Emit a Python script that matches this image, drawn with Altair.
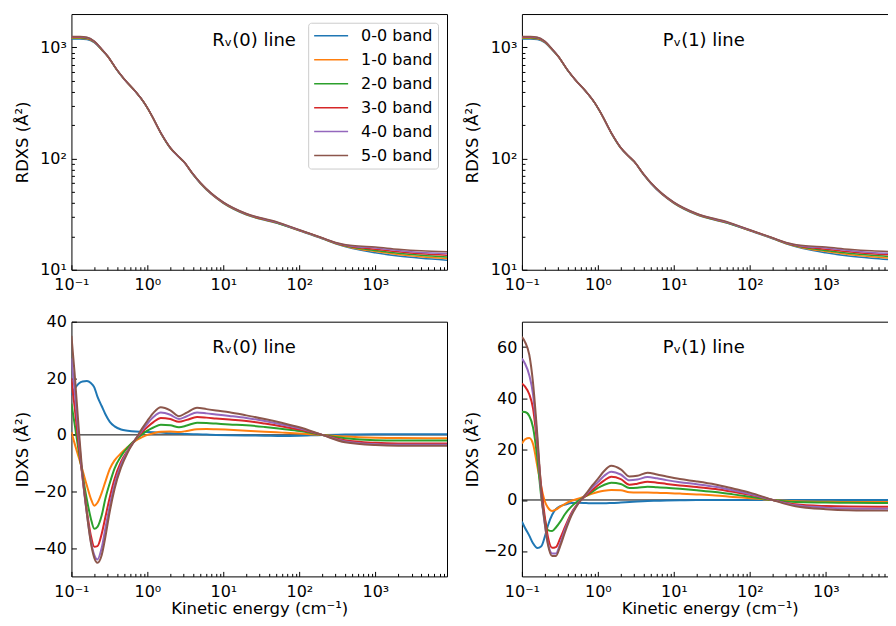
import altair as alt
import pandas as pd

FONT = "DejaVu Sans"

BANDS = ["0-0 band", "1-0 band", "2-0 band", "3-0 band", "4-0 band", "5-0 band"]
COLORS = ["#1f77b4", "#ff7f0e", "#2ca02c", "#d62728", "#9467bd", "#8c564b"]

PANEL_TEXT = ["Rᵥ(0) line", "Pᵥ(1) line"]
Y_TITLES = ["RDXS (Å²)", "IDXS (Å²)"]
X_TITLE = "Kinetic energy (cm⁻¹)"

# ---------- RDXS (top row) ----------
X_RDXS = [0.1, 0.13, 0.16, 0.2, 0.25, 0.3, 0.4, 0.5, 0.7, 0.9, 1.1, 1.5, 2, 2.5, 3, 4, 5, 7, 10,
          20, 50, 100, 200, 300, 500, 1000, 2000, 4000, 8770]

R_RDXS_00 = [1190, 1190, 1180, 1105, 950, 828, 620, 512, 398, 319, 254, 169, 124, 105.5, 93.5, 71.5, 59.5, 47.5, 39.6,
             31.2, 26.3, 22.4, 19.0, 17.1, 15.5, 14.2, 13.3, 12.7, 12.2]
R_RDXS_10 = [1210, 1210, 1200, 1115, 955, 831, 622, 513, 399, 320, 254.5, 169.5, 124.5, 105.8, 93.8, 71.8, 59.8, 47.8, 39.8,
             31.4, 26.4, 22.5, 19.1, 17.2, 15.7, 14.6, 13.7, 13.1, 12.6]
R_RDXS_20 = [1225, 1225, 1213, 1125, 960, 833, 623, 514, 399.5, 320, 255, 170, 125, 106, 94, 72, 60, 48, 40,
             31.5, 26.5, 22.6, 19.2, 17.3, 15.9, 14.9, 14.1, 13.5, 13.0]
R_RDXS_30 = [1237, 1237, 1222, 1130, 965, 835, 625, 515, 400, 320.5, 255.5, 170.5, 125.3, 106.2, 94.2, 72.2, 60.2, 48.2, 40.2,
             31.7, 26.7, 22.7, 19.3, 17.4, 16.1, 15.3, 14.5, 13.9, 13.5]
R_RDXS_40 = [1246, 1246, 1230, 1135, 968, 836, 626, 516, 400.5, 321, 256, 171, 125.6, 106.4, 94.4, 72.4, 60.4, 48.4, 40.4,
             31.9, 26.8, 22.8, 19.3, 17.5, 16.3, 15.7, 14.9, 14.3, 14.0]
R_RDXS_50 = [1254, 1254, 1238, 1140, 970, 838, 627, 517, 401, 321.5, 256.5, 171.5, 126, 106.7, 94.7, 72.7, 60.7, 48.7, 40.6,
             32.1, 27.0, 22.9, 19.4, 17.6, 16.5, 16.0, 15.3, 14.8, 14.5]

P_RDXS_00 = [1190, 1190, 1180, 1105, 950, 828, 620, 512, 398, 319, 254, 169, 124, 105.5, 93.5, 71.5, 59.5, 47.5, 39.6,
             31.2, 26.3, 22.4, 19.0, 17.1, 15.5, 14.2, 13.3, 12.7, 12.2]
P_RDXS_10 = [1210, 1210, 1200, 1115, 955, 831, 622, 513, 399, 320, 254.5, 169.5, 124.5, 105.8, 93.8, 71.8, 59.8, 47.8, 39.8,
             31.4, 26.4, 22.5, 19.1, 17.2, 15.7, 14.6, 13.7, 13.1, 12.6]
P_RDXS_20 = [1225, 1225, 1213, 1125, 960, 833, 623, 514, 399.5, 320, 255, 170, 125, 106, 94, 72, 60, 48, 40,
             31.5, 26.5, 22.6, 19.2, 17.3, 15.9, 14.9, 14.1, 13.5, 13.0]
P_RDXS_30 = [1237, 1237, 1222, 1130, 965, 835, 625, 515, 400, 320.5, 255.5, 170.5, 125.3, 106.2, 94.2, 72.2, 60.2, 48.2, 40.2,
             31.7, 26.7, 22.7, 19.3, 17.4, 16.1, 15.3, 14.5, 13.9, 13.5]
P_RDXS_40 = [1246, 1246, 1230, 1135, 968, 836, 626, 516, 400.5, 321, 256, 171, 125.6, 106.4, 94.4, 72.4, 60.4, 48.4, 40.4,
             31.9, 26.8, 22.8, 19.3, 17.5, 16.3, 15.7, 14.9, 14.3, 14.0]
P_RDXS_50 = [1254, 1254, 1238, 1140, 970, 838, 627, 517, 401, 321.5, 256.5, 171.5, 126, 106.7, 94.7, 72.7, 60.7, 48.7, 40.6,
             32.1, 27.0, 22.9, 19.4, 17.6, 16.5, 16.0, 15.3, 14.8, 14.5]

# ---------- IDXS (bottom row) ----------
X_IDXS = [0.1, 0.11, 0.125, 0.14, 0.16, 0.18, 0.2, 0.22, 0.25, 0.28, 0.32, 0.37, 0.45, 0.55, 0.7, 0.85, 1.0,
          1.2, 1.5, 2.0, 2.6, 3.3, 4.5, 6, 8, 12, 20, 35, 60, 100, 200, 400, 1000, 2000, 8770]

R_IDXS_00 = [14, 16.3, 18.2, 18.9, 19.0, 18.3, 16.8, 13.5, 10.2, 7.3, 4.6, 3.0, 1.9, 1.5, 1.2, 1.1, 1.0,
             0.9, 0.8, 0.6, 0.45, 0.3, 0.2, 0.1, 0.0, -0.1, -0.2, -0.3, -0.4, -0.3, 0.0, 0.1, 0.2, 0.2, 0.2]
R_IDXS_10 = [1.0, -3, -8, -12.5, -18, -22.5, -25, -24, -20.5, -16.5, -12, -9, -6.5, -4.3, -2.0, -0.8, 0.0,
             0.6, 1.1, 1.2, 1.0, 1.4, 2.0, 2.1, 2.0, 1.8, 1.5, 1.1, 0.8, 0.5, 0.0, -0.6, -1.0, -1.1, -1.2]
R_IDXS_20 = [11, 4, -6, -14, -23, -29.5, -33.2, -32.5, -28.5, -22.5, -17, -11.8, -7.5, -4.4, -1.6, 0.2, 1.5,
             2.6, 3.6, 3.4, 2.7, 3.3, 4.3, 4.2, 4.0, 3.7, 3.4, 2.8, 2.1, 1.4, 0.0, -1.2, -1.9, -2.0, -2.0]
R_IDXS_30 = [20, 10, -4, -15, -27, -35.5, -39.5, -39.3, -35, -29, -22, -15.5, -9.5, -5.5, -1.5, 1.0, 2.8,
             4.5, 6.0, 5.6, 4.6, 5.3, 6.3, 6.1, 5.8, 5.4, 4.9, 4.0, 3.0, 1.9, 0.0, -1.9, -2.8, -3.0, -3.0]
R_IDXS_40 = [27, 16, -1, -15, -28, -37.5, -42.5, -44, -40, -33, -25, -17.5, -10.5, -5.8, -1.5, 1.6, 4.0,
             6.3, 7.9, 7.1, 5.6, 6.6, 7.9, 7.6, 7.2, 6.7, 6.0, 4.9, 3.6, 2.3, 0.0, -2.3, -3.3, -3.5, -3.5]
R_IDXS_50 = [35, 22, 2, -14, -28, -38, -43.5, -45.2, -42.5, -36, -27, -19, -11.5, -6.2, -1.5, 2.2, 5.0,
             7.8, 9.8, 8.7, 6.6, 7.9, 9.6, 9.1, 8.6, 8.0, 6.9, 5.6, 4.2, 2.7, 0.0, -2.6, -3.6, -3.8, -3.8]

P_IDXS_00 = [-8.5, -11, -14, -17, -18.9, -18.2, -14.5, -10, -5.8, -3.6, -2.4, -1.8, -1.2, -1.1, -1.2, -1.3, -1.3,
             -1.3, -1.2, -1.0, -0.8, -0.6, -0.4, -0.3, -0.2, -0.1, 0, 0, 0, 0, 0, 0, 0, 0, 0]
P_IDXS_10 = [22.2, 23.8, 24.3, 22, 13, 5, -0.5, -3, -4.3, -3.8, -2.6, -1.5, -0.3, 0.5, 1.6, 2.5, 3.1,
             3.6, 3.9, 3.8, 3.0, 2.9, 2.9, 2.8, 2.7, 2.5, 2.2, 1.8, 1.2, 0.7, 0, -0.5, -0.7, -0.8, -0.8]
P_IDXS_20 = [34.6, 34.5, 33, 28.5, 16, 1, -7.5, -11.8, -12.2, -10.8, -8.5, -5.5, -2.5, -0.4, 1.6, 3.3, 4.7,
             5.9, 6.8, 6.3, 4.7, 4.8, 5.2, 5.0, 4.8, 4.4, 3.8, 3.1, 2.2, 1.3, 0, -0.8, -1.0, -1.1, -1.2]
P_IDXS_30 = [45.7, 44.5, 41.5, 36, 21, 5, -6.5, -14.5, -18.8, -18.5, -15, -10.5, -5, -1.2, 1.8, 4.0, 5.8,
             7.6, 9.1, 8.2, 6.0, 6.4, 7.2, 6.8, 6.3, 5.7, 5.1, 4.3, 3.2, 2.0, 0, -1.7, -2.4, -2.6, -2.7]
P_IDXS_40 = [55.5, 53.5, 49, 41.5, 23, 2, -9.5, -17, -21, -21, -17, -11.5, -5.5, -1.3, 2.2, 5.0, 7.0,
             9.4, 11.1, 10.0, 7.7, 8.0, 9.0, 8.5, 7.8, 7.0, 6.2, 5.2, 3.8, 2.3, 0, -2.1, -3.0, -3.3, -3.5]
P_IDXS_50 = [64, 62, 57, 46, 25, 3, -9, -17.5, -22, -22, -18, -12.5, -6, -1.5, 2.5, 5.8, 8.3,
             11.3, 13.4, 12.0, 9.2, 9.5, 10.7, 10.0, 9.2, 8.2, 7.3, 6.1, 4.5, 2.9, 0, -2.5, -3.6, -4.0, -4.2]

# axis tick positions and panel label positions (data coordinates)
X_DOMAIN = [0.1, 8770]
X_MAJOR = [0.1, 1, 10, 100, 1000]
X_MINOR = [round(k * 10.0 ** e, 6) for e in range(-1, 4) for k in range(2, 10) if k * 10.0 ** e < 8770]
Y_TOP_MAJOR = [10, 100, 1000]
Y_TOP_MINOR = [k * 10 ** e for e in (1, 2) for k in range(2, 10)]
Y_BL_MAJOR = [-40, -20, 0, 20, 40]
Y_BR_MAJOR = [-20, 0, 20, 40, 60]
LABEL_X = 7.15
LABEL_Y = [1140, 1140, 30.7, 59.7]

XLABEL = ("datum.value < 0.5 ? '10⁻¹' : datum.value < 5 ? '10⁰' : datum.value < 50 ? '10¹' : "
          "datum.value < 500 ? '10²' : '10³'")
YLOGLABEL = "datum.value < 50 ? '10¹' : datum.value < 500 ? '10²' : '10³'"
YLINLABEL = "replace(format(datum.value, 'd'), '-', '−')"


def long_df(xs, series):
    rows = []
    for band, ys in zip(BANDS, series):
        for x, y in zip(xs, ys):
            rows.append({"x": x, "v": y, "band": band})
    return pd.DataFrame(rows)


def panel(df, ydomain, ylog, ymajor, ylabelexpr, ytitle, text, ty, xtitle, legend, width, height, sw):
    xscale = alt.Scale(type="log", domain=X_DOMAIN, nice=False)
    if ylog:
        yscale = alt.Scale(type="log", domain=ydomain, nice=False)
    else:
        yscale = alt.Scale(domain=ydomain, nice=False, zero=False)

    xkw = dict(values=X_MAJOR, labelExpr=XLABEL, tickSize={"expr": "-5"}, tickColor="black", tickWidth=1,
               labelPadding=12, labelFlush=False, labelOverlap=False, domain=False, grid=False, orient="bottom")
    if xtitle:
        xaxis = alt.Axis(title=xtitle, titleBaseline="alphabetic", titleY=37.5, **xkw)
    else:
        xaxis = alt.Axis(title=None, **xkw)
    yaxis = alt.Axis(values=ymajor, labelExpr=ylabelexpr, tickSize={"expr": "-5"}, tickColor="black", tickWidth=1,
                     labelPadding=10, labelFlush=False, labelOverlap=False, domain=False, grid=False,
                     title=ytitle, titleX=-41, titleAngle=270, titleBaseline="bottom", orient="left")
    if legend:
        leg = alt.Legend(orient="none", legendX=237, legendY=8.7, title=None, symbolType="stroke",
                         symbolSize=1156, symbolStrokeWidth=1.5, labelFontSize=16, labelFont=FONT,
                         labelColor="black", padding=5, rowPadding=8, clipHeight=16, labelOffset=12,
                         fillColor="white", strokeColor="#cccccc", cornerRadius=3)
    else:
        leg = None

    lines = alt.Chart(df).mark_line(strokeWidth=sw, interpolate="monotone", clip=True).encode(
        x=alt.X("x:Q", scale=xscale, axis=xaxis),
        y=alt.Y("v:Q", scale=yscale, axis=yaxis),
        color=alt.Color("band:N", scale=alt.Scale(domain=BANDS, range=COLORS), legend=leg),
    )

    xminor = alt.Axis(values=X_MINOR, tickSize={"expr": "-3"}, tickColor="black", tickWidth=1, labels=False,
                      domain=False, grid=False, title=None, orient="bottom")
    if ylog:
        yminor = alt.Axis(values=Y_TOP_MINOR, tickSize={"expr": "-3"}, tickColor="black", tickWidth=1,
                          labels=False, domain=False, grid=False, title=None, orient="left")
    else:
        yminor = None
    minor = alt.Chart(df).mark_point(opacity=0, size=1).encode(
        x=alt.X("x:Q", scale=xscale, axis=xminor),
        y=alt.Y("v:Q", scale=yscale, axis=yminor),
    )

    tdf = pd.DataFrame({"x": [LABEL_X], "v": [ty], "label": [text]})
    label = alt.Chart(tdf).mark_text(align="left", baseline="middle", fontSize=18, font=FONT,
                                     color="black").encode(
        x=alt.X("x:Q", scale=xscale, axis=None),
        y=alt.Y("v:Q", scale=yscale, axis=None),
        text="label:N",
    )
    layers = [lines, minor, label]
    if not ylog:
        zdf = pd.DataFrame({"v": [0]})
        zero = alt.Chart(zdf).mark_rule(color="black", strokeWidth=1).encode(
            y=alt.Y("v:Q", scale=yscale, axis=None)
        )
        layers = [zero] + layers
    return alt.layer(*layers).resolve_axis(x="independent", y="independent").properties(
        width=width, height=height
    )


W = 376
tl = panel(long_df(X_RDXS, [R_RDXS_00, R_RDXS_10, R_RDXS_20, R_RDXS_30, R_RDXS_40, R_RDXS_50]),
           [10, 2000], True, Y_TOP_MAJOR, YLOGLABEL, Y_TITLES[0], PANEL_TEXT[0], LABEL_Y[0], None, True, W, 256, 1.5)
tr = panel(long_df(X_RDXS, [P_RDXS_00, P_RDXS_10, P_RDXS_20, P_RDXS_30, P_RDXS_40, P_RDXS_50]),
           [10, 2000], True, Y_TOP_MAJOR, YLOGLABEL, Y_TITLES[0], PANEL_TEXT[1], LABEL_Y[1], None, False, W, 256, 1.5)
bl = panel(long_df(X_IDXS, [R_IDXS_00, R_IDXS_10, R_IDXS_20, R_IDXS_30, R_IDXS_40, R_IDXS_50]),
           [-50, 40], False, Y_BL_MAJOR, YLINLABEL, Y_TITLES[1], PANEL_TEXT[0], LABEL_Y[2], X_TITLE, False, W, 255, 2)
br = panel(long_df(X_IDXS, [P_IDXS_00, P_IDXS_10, P_IDXS_20, P_IDXS_30, P_IDXS_40, P_IDXS_50]),
           [-30, 70], False, Y_BR_MAJOR, YLINLABEL, Y_TITLES[1], PANEL_TEXT[1], LABEL_Y[3], X_TITLE, False, W, 255, 2)

chart = alt.concat(tl, tr, bl, br, columns=2, spacing={"row": 52, "column": 75}, bounds="flush").resolve_scale(
    color="independent"
).resolve_legend(color="independent").configure_view(stroke="black", strokeWidth=1).configure_axis(
    labelFont=FONT, titleFont=FONT, labelFontSize=16, titleFontSize=16.5, labelColor="black",
    titleColor="black", titleFontWeight="normal"
).properties(padding={"left": 5.5, "top": 4.7, "right": -10.5, "bottom": 0.5}, background="white")

chart.save("out.html", embed_options={"renderer": "svg", "actions": False})
